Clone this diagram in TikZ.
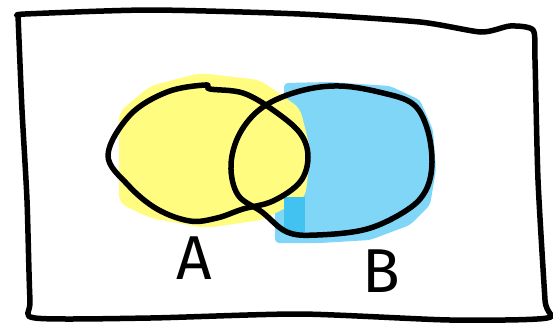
\documentclass[tikz,border=0pt]{standalone}
\usepackage{fontspec}
\setmainfont{Fira Sans}
\usetikzlibrary{positioning}

\begin{document}
\begin{tikzpicture}[
    x=1pt, y=-1pt,
    every node/.style={font=\fontsize{62}{62}\selectfont},
    pen/.style={draw=black, line width=5.5pt, line cap=round, line join=round},
    setlabel/.style={inner sep=0pt, text=black},
]
\definecolor{markyellow}{RGB}{255,252,128}
\definecolor{markblue}{RGB}{128,214,247}
\definecolor{markblue2}{RGB}{66,194,240}

\useasboundingbox (0,0) rectangle (553,325);

% ---- Marker fills ----
\fill[markblue, rounded corners=4pt] (284,83) -- (330,82) -- (390,86) -- (420,100) -- (433,130)
    -- (436,170) -- (430,205) -- (410,225) -- (370,240) -- (320,243) -- (275,243) -- (275,196)
    -- (284,196) -- cycle;
\fill[markyellow, rounded corners=8pt] (119,112) -- (150,86) -- (200,73) -- (260,80) -- (300,108)
    -- (311,152) -- (305,198) -- (262,220) -- (205,228) -- (150,218) -- (119,203) -- cycle;
\fill[markblue2] (284,197) rectangle (305,232);

% ---- Set A ----
\draw[pen] plot[smooth cycle, tension=0.6] coordinates {
    (108,155) (130,115) (167,92) (205,85) (210,89) (243,93) (273,110) (300,133)
    (308,157) (300,182) (273,201) (243,209) (217,218) (190,221) (157,209) (128,185)};

% ---- Set B ----
\draw[pen] plot[smooth cycle, tension=0.6] coordinates {
    (231,165) (240,133) (263,107) (300,91) (340,86) (383,93) (413,104) (427,128)
    (432,162) (426,190) (407,210) (367,229) (317,235) (287,232) (262,212) (238,195)};

% ---- Frame ----
\draw[pen] plot[smooth, tension=0.4] coordinates {
    (19,16) (25,14) (150,10) (300,14) (420,22) (481,32) (510,26) (533,30) (535,60)
    (538,180) (545,300) (547,318) (450,320) (300,314) (150,318) (35,318) (30,300) (27,200)
    (22,110) (18,15)};

% ---- Labels ----
\node[setlabel] (labelA) at (194,258) {A};
\node[setlabel] (labelB) at (381,271) {B};

\end{tikzpicture}
\end{document}
